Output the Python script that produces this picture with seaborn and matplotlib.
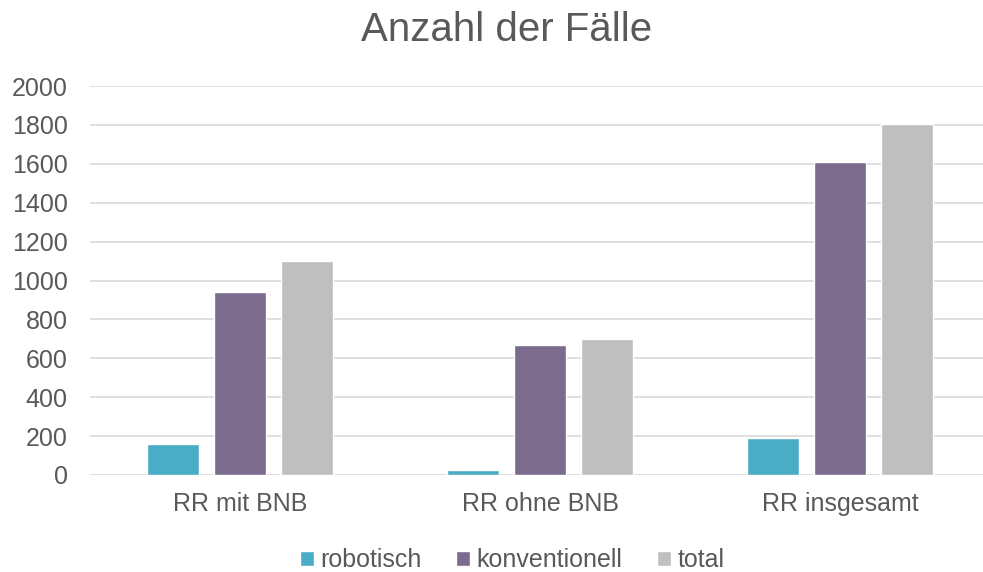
import matplotlib
matplotlib.use('Agg')
import matplotlib.pyplot as plt
import pandas as pd
import seaborn as sns

categories = ['RR mit BNB', 'RR ohne BNB', 'RR insgesamt']
series_names = ['robotisch', 'konventionell', 'total']
robotisch = [160, 26, 189]
konventionell = [940, 667, 1611]
total = [1102, 698, 1805]
y_ticks = [0, 200, 400, 600, 800, 1000, 1200, 1400, 1600, 1800, 2000]

COLORS = ['#4BACC6', '#7B6B8D', '#BFBFBF']
TEXT = '#595959'

df = pd.DataFrame({
    'Kategorie': categories * 3,
    'Serie': [s for s in series_names for _ in categories],
    'Wert': robotisch + konventionell + total,
})

sns.set_theme(style='white')
plt.rcParams['font.family'] = ['Liberation Sans', 'DejaVu Sans']

fig = plt.figure(figsize=(9.83, 5.72), dpi=100)
ax = fig.add_axes([90 / 983, 1 - 475 / 572, 900 / 983, 389 / 572])

sns.barplot(data=df, x='Kategorie', y='Wert', hue='Serie', palette=COLORS,
            width=0.67, gap=0.22, saturation=1, ax=ax, zorder=3)

ax.set_ylim(0, 2000)
ax.set_xlim(-0.5, 2.5)
ax.set_yticks(y_ticks)
ax.yaxis.grid(True, color='#D9D9D9', linewidth=1.2, zorder=0)
ax.set_axisbelow(True)
for side in ['top', 'right', 'left', 'bottom']:
    ax.spines[side].set_visible(False)
ax.set_xlabel('')
ax.set_ylabel('')
ax.tick_params(axis='y', length=0, pad=16, labelsize=18, labelcolor=TEXT)
ax.tick_params(axis='x', length=0, pad=12, labelsize=18, labelcolor=TEXT)

fig.text(507 / 983, 1 - 30 / 572, 'Anzahl der Fälle', ha='center', va='center',
         fontsize=29, color=TEXT)

handles, labels = ax.get_legend_handles_labels()
ax.legend_.remove()
fig.legend(handles, labels, loc='center', bbox_to_anchor=(512 / 983, 1 - 560 / 572),
           ncol=3, frameon=False, fontsize=18, labelcolor=TEXT,
           handlelength=0.55, handleheight=0.55, handletextpad=0.25, columnspacing=1.4)

fig.savefig('out.png', dpi=100)
